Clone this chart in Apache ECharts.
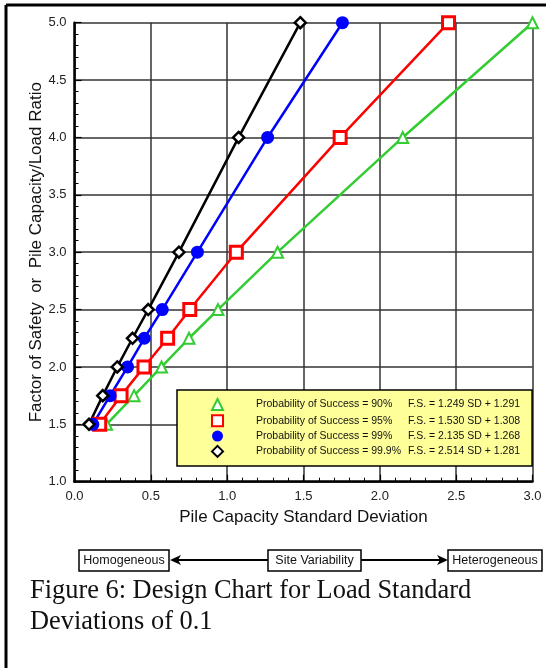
<!DOCTYPE html>
<html>
<head>
<meta charset="utf-8">
<script src="https://cdn.jsdelivr.net/npm/echarts@6/dist/echarts.min.js"></script>
<style>
  html, body { margin: 0; padding: 0; background: #fff; }
  #main { width: 546px; height: 668px; }
</style>
</head>
<body>
<div id="main"></div>
<script>
// Factor of safety levels (y) shared by all curves
var fsLevels = [1.5, 1.75, 2.0, 2.25, 2.5, 3.0, 4.0, 5.0];

// Pile capacity standard deviation, one list per probability
var sd90  = [0.21, 0.39, 0.57, 0.75, 0.94, 1.33, 2.15, 3.00];
var sd95  = [0.165, 0.305, 0.455, 0.61, 0.755, 1.06, 1.74, 2.45];
var sd99  = [0.12, 0.233, 0.348, 0.457, 0.575, 0.805, 1.265, 1.755];
var sd999 = [0.095, 0.185, 0.28, 0.38, 0.483, 0.684, 1.075, 1.479];

var seriesNames = ['p90', 'p95', 'p99', 'p999'];
var legendLabels = ['Probability of Success = 90%', 'Probability of Success = 95%',
                    'Probability of Success = 99%', 'Probability of Success = 99.9%'];
var legendEquations = ['F.S. = 1.249 SD + 1.291', 'F.S. = 1.530 SD + 1.308',
                       'F.S. = 2.135 SD + 1.268', 'F.S. = 2.514 SD + 1.281'];

function pairs(xs) {
  return xs.map(function (x, i) { return [x, fsLevels[i]]; });
}

var font = 'Arial, "Liberation Sans", Helvetica, sans-serif';

var myChart = echarts.init(document.getElementById('main'));
var option = {
  animation: false,
  backgroundColor: '#fff',
  grid: { left: 74.5, top: 22.7, right: 13.5, bottom: 186.3 },
  xAxis: {
    type: 'value', min: 0, max: 3, interval: 0.5,
    name: 'Pile Capacity Standard Deviation',
    nameLocation: 'middle', nameGap: 27, nameMoveOverlap: false,
    nameTextStyle: { fontSize: 17, color: '#111', fontFamily: font },
    axisLine: { onZero: false, lineStyle: { color: '#000', width: 2.5 } },
    axisTick: { inside: true, length: 7, lineStyle: { color: '#000', width: 1.2 } },
    minorTick: { show: true, splitNumber: 5, length: 4, lineStyle: { color: '#000', width: 1 } },
    axisLabel: { fontSize: 13, color: '#222', margin: 8, fontFamily: font,
      formatter: function (v) { return v.toFixed(1); } },
    splitLine: { show: true, lineStyle: { color: '#333', width: 1.5 } }
  },
  yAxis: {
    type: 'value', min: 1, max: 5, interval: 0.5,
    name: 'Factor of Safety  or  Pile Capacity/Load Ratio',
    nameLocation: 'middle', nameGap: 29.5, nameRotate: 90, nameMoveOverlap: false,
    nameTextStyle: { fontSize: 17, color: '#111', fontFamily: font },
    axisLine: { onZero: false, lineStyle: { color: '#000', width: 2.5 } },
    axisTick: { inside: true, length: 7, lineStyle: { color: '#000', width: 1.2 } },
    minorTick: { show: true, splitNumber: 5, length: 4, lineStyle: { color: '#000', width: 1 } },
    axisLabel: { fontSize: 13, color: '#222', margin: 8, fontFamily: font,
      formatter: function (v) { return v.toFixed(1); } },
    splitLine: { show: true, lineStyle: { color: '#333', width: 1.5 } }
  },
  legend: {
    orient: 'vertical',
    left: 177, top: 390,
    backgroundColor: '#ffff99',
    borderColor: '#000', borderWidth: 1.5, borderRadius: 0,
    padding: [8, 12, 8, 34],
    itemWidth: 11, itemHeight: 11, itemGap: 3.3,
    selectedMode: false,
    data: [
      { name: 'p90', icon: 'triangle' },
      { name: 'p95', icon: 'rect' },
      { name: 'p99', icon: 'circle' },
      { name: 'p999', icon: 'diamond' }
    ],
    formatter: function (name) {
      var i = seriesNames.indexOf(name);
      return '{a|' + legendLabels[i] + '}{b|' + legendEquations[i] + '}';
    },
    textStyle: {
      fontSize: 10.5, color: '#111', fontFamily: font, padding: [0, 0, 0, 28],
      rich: {
        a: { fontSize: 10.5, color: '#111', fontFamily: font, width: 152 },
        b: { fontSize: 10.5, color: '#111', fontFamily: font }
      }
    }
  },
  series: [
    {
      name: 'p90', type: 'line', data: pairs(sd90),
      symbol: 'triangle', symbolSize: 11,
      itemStyle: { color: '#fff', borderColor: '#33cc33', borderWidth: 2 },
      lineStyle: { color: '#33cc33', width: 2.5 },
      emphasis: { disabled: true }
    },
    {
      name: 'p95', type: 'line', data: pairs(sd95),
      symbol: 'rect', symbolSize: 12,
      itemStyle: { color: '#fff', borderColor: '#ff0000', borderWidth: 3 },
      lineStyle: { color: '#ff0000', width: 2.5 },
      emphasis: { disabled: true }
    },
    {
      name: 'p99', type: 'line', data: pairs(sd99),
      symbol: 'circle', symbolSize: 13,
      itemStyle: { color: '#0000ff', borderWidth: 0 },
      lineStyle: { color: '#0000ff', width: 2.5 },
      emphasis: { disabled: true }
    },
    {
      name: 'p999', type: 'line', data: pairs(sd999),
      symbol: 'diamond', symbolSize: 11,
      itemStyle: { color: '#fff', borderColor: '#000', borderWidth: 2.5 },
      lineStyle: { color: '#000', width: 2.5 },
      emphasis: { disabled: true }
    }
  ],
  graphic: [
    // page frame (top and left only)
    { type: 'line', shape: { x1: 6, y1: 5, x2: 546, y2: 5 }, style: { stroke: '#000', lineWidth: 3 } },
    { type: 'line', shape: { x1: 6, y1: 5, x2: 6, y2: 668 }, style: { stroke: '#000', lineWidth: 3 } },
    // site variability strip
    { type: 'line', shape: { x1: 172, y1: 560, x2: 268, y2: 560 }, style: { stroke: '#000', lineWidth: 2 } },
    { type: 'polygon', shape: { points: [[170, 560], [181, 555], [178, 560], [181, 565]] }, style: { fill: '#000' } },
    { type: 'line', shape: { x1: 361, y1: 560, x2: 446, y2: 560 }, style: { stroke: '#000', lineWidth: 2 } },
    { type: 'polygon', shape: { points: [[448, 560], [437, 555], [440, 560], [437, 565]] }, style: { fill: '#000' } },
    { type: 'rect', shape: { x: 79, y: 550, width: 90, height: 21 }, style: { fill: '#fff', stroke: '#000', lineWidth: 1.5 } },
    { type: 'text', x: 124, y: 560.5, style: { text: 'Homogeneous', font: '12.5px ' + font, fill: '#111', align: 'center', verticalAlign: 'middle' } },
    { type: 'rect', shape: { x: 268, y: 550, width: 93, height: 21 }, style: { fill: '#fff', stroke: '#000', lineWidth: 1.5 } },
    { type: 'text', x: 314.5, y: 560.5, style: { text: 'Site Variability', font: '12.5px ' + font, fill: '#111', align: 'center', verticalAlign: 'middle' } },
    { type: 'rect', shape: { x: 448, y: 550, width: 94, height: 21 }, style: { fill: '#fff', stroke: '#000', lineWidth: 1.5 } },
    { type: 'text', x: 495, y: 560.5, style: { text: 'Heterogeneous', font: '12.5px ' + font, fill: '#111', align: 'center', verticalAlign: 'middle' } },
    // figure caption
    { type: 'text', left: 30, top: 576, style: {
        text: 'Figure 6: Design Chart for Load Standard\nDeviations of 0.1',
        font: '26.4px "Liberation Serif", "Times New Roman", serif', fill: '#111', lineHeight: 31 } }
  ]
};
myChart.setOption(option);
</script>
</body>
</html>
